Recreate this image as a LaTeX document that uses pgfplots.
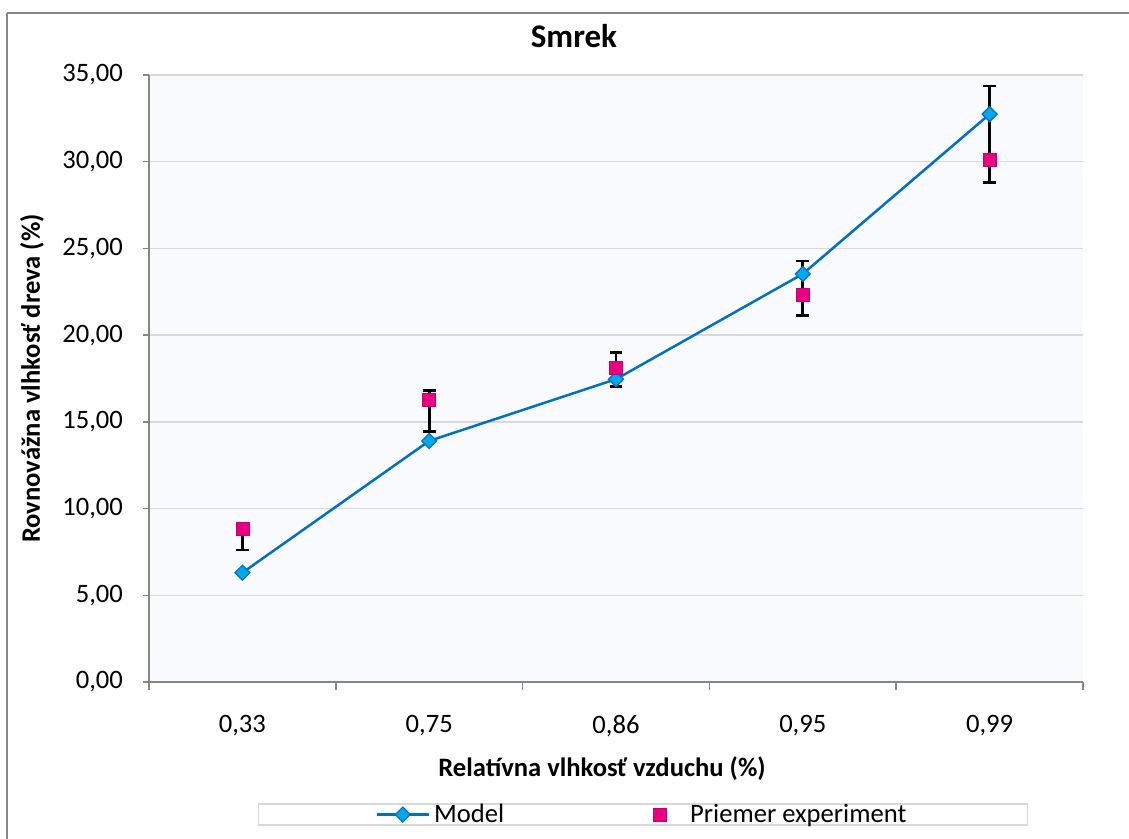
\documentclass[border=0pt]{standalone}
\usepackage{pgfplots}
\pgfplotsset{compat=1.18}
\usepackage{fontspec}
\setmainfont{Carlito}

\definecolor{plotbg}{RGB}{249,250,253}
\definecolor{gridc}{RGB}{217,217,217}
\definecolor{axisc}{RGB}{134,134,134}
\definecolor{modelline}{RGB}{0,112,192}
\definecolor{modelfill}{RGB}{0,168,236}
\definecolor{expfill}{RGB}{232,0,128}
\definecolor{expdraw}{RGB}{200,0,110}

\pgfplotsset{
  short legend/.style={
    legend image code/.code={%
      \path[draw=none, fill=none] (0pt,0pt) -- (26pt,0pt);
      \draw[mark repeat=2,mark phase=2,##1] plot coordinates {(0pt,0pt) (13pt,0pt) (26pt,0pt)};}
  }
}

\begin{document}
\begin{tikzpicture}
\useasboundingbox (0,0) rectangle (564.5pt,419.5pt);
\clip (0,0) rectangle (564.5pt,419.5pt);
\begin{axis}[
  at={(74.5pt,78.5pt)}, anchor=south west,
  scale only axis, width=467pt, height=303.5pt,
  font=\fontsize{13.3}{16}\selectfont,
  axis background/.style={fill=plotbg},
  axis line style={draw=axisc, line width=0.75pt},
  axis x line*=bottom, axis y line*=left,
  xmin=-0.5, xmax=4.5, ymin=0, ymax=35,
  xtick={0,1,2,3,4},
  xticklabels={{0,33},{0,75},{0,86},{0,95},{0,99}},
  major x tick style={draw=none},
  minor xtick={-0.5,0.5,1.5,2.5,3.5,4.5},
  minor x tick style={draw=axisc, line width=0.75pt},
  minor tick length=4pt,
  ytick={0,5,...,35},
  major tick length=3pt,
  y tick style={draw=axisc, line width=0.75pt},
  tick align=outside,
  ymajorgrids, grid style={draw=gridc, line width=0.75pt},
  yticklabel style={xshift=-6.5pt},
  yticklabel style={/pgf/number format/.cd, fixed, fixed zerofill, precision=2, use comma, assume math mode=true},
  xticklabel style={yshift=-10pt},
  title={\fontsize{16.5}{19}\selectfont\bfseries Smrek},
  title style={at={(0.455,1.0263)}, anchor=base},
  xlabel={\bfseries Relatívna vlhkosť vzduchu (\%)},
  xlabel style={at={(0.485,-0.156)}, anchor=base},
  ylabel={\bfseries Rovnovážna vlhkosť dreva (\%)},
  ylabel style={at={(-0.1253,0.5)}, anchor=center, rotate=0},
  legend columns=2,
  legend cell align=left,
  legend style={at={(0.5289,-0.2183)}, anchor=center, draw=gridc, line width=0.75pt,
    fill=white, inner xsep=58.5pt, inner ysep=0pt,
    nodes={inner xsep=2pt, inner ysep=0pt, font=\fontsize{13.3}{16}\selectfont},
    /tikz/every even column/.append style={column sep=63pt}},
  clip=false,
]
% model curve
\addplot[color=modelline, line width=1.25pt, short legend,
  mark=square*, mark size=2.65pt,
  mark options={rotate=45, fill=modelfill, draw=modelline, line width=0.6pt}]
  coordinates {(0,6.30) (1,13.90) (2,17.46) (3,23.53) (4,32.74)};
\addlegendentry{Model}
% mean of the measurements with their spread
\addplot[only marks, short legend, mark=square*, mark size=3.25pt,
  mark options={fill=expfill, draw=expdraw, line width=0.4pt},
  error bars/.cd, y dir=both, y explicit,
  error bar style={black, line width=1.4pt},
  error mark options={rotate=90, mark size=3.2pt, black, line width=1.4pt}]
  coordinates {
    (0,8.82)  += (0,0.05) -= (0,1.21)
    (1,16.26) += (0,0.54) -= (0,1.83)
    (2,18.13) += (0,0.86) -= (0,1.10)
    (3,22.32) += (0,1.96) -= (0,1.20)
    (4,30.10) += (0,4.27) -= (0,1.28)
  };
\addlegendentry{Priemer experiment}
\end{axis}
\draw[draw=axisc, line width=1pt] (3.5pt,413pt) -- (3.5pt,-5pt);
\draw[draw=axisc, line width=1pt] (3.5pt,413pt) -- (570pt,413pt);
\end{tikzpicture}
\end{document}
